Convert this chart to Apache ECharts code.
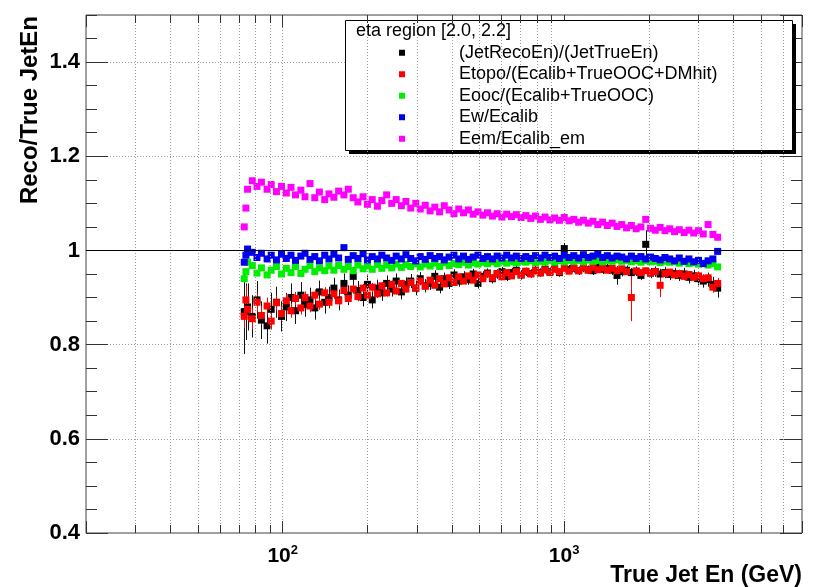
<!DOCTYPE html>
<html><head><meta charset="utf-8">
<script src="https://cdn.jsdelivr.net/npm/echarts@6/dist/echarts.min.js"></script>
<style>html,body{margin:0;padding:0;background:#fff}#c{width:818px;height:587px}</style>
</head><body><div id="c"></div>
<script>
// ---- data ----
const energies = [
  73,74,75,78,81,84,88,91,95,99,
  103,107,111,116,120,125,130,135,141,146,
  152,158,165,171,178,185,193,200,208,217,
  225,234,244,253,264,274,285,297,308,321,
  334,347,361,375,390,406,422,439,457,475,
  494,514,534,556,578,601,625,650,676,703,
  731,761,791,823,855,890,925,962,1001,1041,
  1082,1126,1171,1218,1266,1317,1370,1424,1481,1541,
  1602,1666,1733,1802,1874,1949,2027,2108,2193,2281,
  2372,2467,2565,2668,2775,2886,3001,3121,3246,3376,
  3511
];
const seriesNames = ['(JetRecoEn)/(JetTrueEn)','Etopo/(Ecalib+TrueOOC+DMhit)','Eooc/(Ecalib+TrueOOC)','Ew/Ecalib','Eem/Ecalib_em'];
const recoRatio = [
  0.87,0.87,0.88,0.86,0.895,0.852,0.84,0.875,0.89,0.86,
  0.88,0.9,0.872,0.905,0.885,0.895,0.878,0.912,0.89,0.9,
  0.92,0.895,0.93,0.905,0.945,0.915,0.9,0.928,0.895,0.92,
  0.91,0.93,0.918,0.935,0.912,0.928,0.935,0.92,0.94,0.925,
  0.93,0.945,0.922,0.94,0.93,0.948,0.935,0.944,0.938,0.95,
  0.93,0.945,0.952,0.94,0.95,0.955,0.945,0.953,0.958,0.948,
  0.955,0.951,0.958,0.953,0.96,0.955,0.962,0.953,1.004,0.96,
  0.962,0.957,0.963,0.959,0.957,0.964,0.96,0.962,0.958,0.947,
  0.955,0.958,0.953,0.956,0.947,1.013,0.952,0.955,0.95,0.953,
  0.949,0.951,0.947,0.95,0.943,0.946,0.94,0.935,0.938,0.928,
  0.92
];
const recoErr = [
  0.09,0.06,0.05,0.045,0.04,0.04,0.038,0.035,0.033,0.032,
  0.03,0.03,0.028,0.028,0.026,0.026,0.025,0.024,0.024,0.023,
  0.022,0.022,0.021,0.021,0.02,0.02,0.019,0.019,0.018,0.018,
  0.017,0.017,0.016,0.016,0.016,0.015,0.015,0.015,0.014,0.014,
  0.014,0.013,0.013,0.013,0.012,0.012,0.012,0.012,0.011,0.011,
  0.011,0.011,0.01,0.01,0.01,0.01,0.01,0.01,0.01,0.01,
  0.009,0.009,0.009,0.009,0.009,0.009,0.009,0.009,0.012,0.009,
  0.009,0.009,0.009,0.009,0.009,0.01,0.01,0.01,0.01,0.02,
  0.01,0.01,0.01,0.01,0.01,0.03,0.011,0.011,0.011,0.012,
  0.012,0.012,0.012,0.013,0.013,0.013,0.014,0.014,0.015,0.016,
  0.02
];
const topoRatio = [
  0.86,0.895,0.875,0.855,0.89,0.862,0.882,0.85,0.889,0.866,
  0.893,0.872,0.898,0.878,0.9,0.882,0.905,0.886,0.91,0.89,
  0.908,0.893,0.915,0.898,0.918,0.902,0.92,0.905,0.922,0.908,
  0.925,0.91,0.928,0.914,0.93,0.918,0.932,0.92,0.935,0.924,
  0.937,0.926,0.94,0.929,0.942,0.932,0.944,0.935,0.946,0.937,
  0.948,0.94,0.95,0.942,0.951,0.944,0.953,0.946,0.955,0.948,
  0.956,0.95,0.958,0.952,0.959,0.953,0.96,0.955,0.962,0.956,
  0.963,0.957,0.964,0.958,0.964,0.959,0.963,0.958,0.962,0.957,
  0.961,0.955,0.9,0.956,0.953,0.957,0.952,0.955,0.926,0.951,
  0.954,0.948,0.951,0.945,0.949,0.943,0.946,0.94,0.942,0.922,
  0.93
];
const topoErr = [
  0.025,0.03,0.025,0.022,0.02,0.02,0.018,0.018,0.016,0.016,
  0.015,0.015,0.014,0.014,0.013,0.013,0.012,0.012,0.012,0.011,
  0.011,0.011,0.01,0.01,0.01,0.01,0.009,0.009,0.009,0.009,
  0.008,0.008,0.008,0.008,0.007,0.007,0.007,0.007,0.007,0.007,
  0.006,0.006,0.006,0.006,0.006,0.006,0.006,0.006,0.006,0.006,
  0.006,0.006,0.006,0.005,0.005,0.005,0.005,0.005,0.005,0.005,
  0.005,0.005,0.005,0.005,0.005,0.005,0.005,0.005,0.005,0.005,
  0.005,0.005,0.005,0.005,0.005,0.005,0.005,0.005,0.005,0.005,
  0.005,0.005,0.05,0.005,0.005,0.006,0.006,0.006,0.025,0.006,
  0.006,0.006,0.007,0.007,0.007,0.008,0.008,0.009,0.009,0.012,
  0.012
];
const oocRatio = [
  0.94,0.955,0.975,0.968,0.952,0.963,0.948,0.958,0.966,0.95,
  0.962,0.953,0.966,0.951,0.96,0.968,0.955,0.963,0.957,0.967,
  0.958,0.968,0.96,0.966,0.957,0.969,0.961,0.967,0.96,0.97,
  0.962,0.969,0.963,0.971,0.964,0.97,0.966,0.972,0.965,0.971,
  0.967,0.973,0.966,0.974,0.968,0.972,0.97,0.975,0.969,0.974,
  0.971,0.975,0.972,0.976,0.972,0.977,0.973,0.976,0.974,0.977,
  0.975,0.978,0.974,0.977,0.975,0.979,0.975,0.978,0.976,0.979,
  0.977,0.979,0.976,0.98,0.977,0.979,0.976,0.979,0.977,0.98,
  0.977,0.979,0.976,0.978,0.975,0.978,0.976,0.977,0.974,0.977,
  0.975,0.976,0.973,0.976,0.972,0.974,0.971,0.973,0.969,0.972,
  0.965
];
const ewRatio = [
  0.975,0.99,1.003,0.996,0.985,0.994,0.982,0.99,0.98,0.992,
  0.983,0.99,0.979,0.988,0.994,0.981,0.987,0.978,0.99,0.982,
  0.992,0.984,1.006,0.981,0.989,0.983,0.993,0.98,0.987,0.982,
  0.99,0.984,0.979,0.988,0.982,0.991,0.983,0.978,0.987,0.981,
  0.989,0.983,0.987,0.98,0.986,0.99,0.982,0.988,0.981,0.986,
  0.99,0.983,0.987,0.982,0.988,0.984,0.99,0.984,0.988,0.983,
  0.987,0.983,0.989,0.984,0.99,0.985,0.988,0.983,0.99,0.985,
  0.989,0.984,0.991,0.985,0.988,0.992,0.985,0.989,0.984,0.988,
  0.986,0.982,0.988,0.983,0.987,0.982,0.986,0.983,0.98,0.985,
  0.982,0.978,0.984,0.977,0.982,0.976,0.979,0.972,0.978,0.982,
  0.998
];
const emRatio = [
  1.05,1.09,1.13,1.148,1.136,1.145,1.13,1.14,1.125,1.136,
  1.122,1.134,1.118,1.128,1.114,1.142,1.112,1.124,1.108,1.12,
  1.113,1.126,1.118,1.13,1.112,1.103,1.114,1.098,1.108,1.094,
  1.106,1.118,1.1,1.108,1.095,1.104,1.09,1.1,1.088,1.096,
  1.084,1.092,1.082,1.095,1.086,1.078,1.088,1.08,1.086,1.077,
  1.082,1.075,1.08,1.073,1.078,1.071,1.077,1.072,1.076,1.07,
  1.074,1.068,1.073,1.066,1.071,1.065,1.069,1.064,1.07,1.063,
  1.066,1.06,1.064,1.058,1.062,1.055,1.06,1.053,1.058,1.051,
  1.055,1.048,1.053,1.046,1.05,1.066,1.047,1.043,1.049,1.042,
  1.046,1.04,1.044,1.038,1.043,1.037,1.042,1.035,1.055,1.034,
  1.028
];
const yTickLabels = ['0.4','0.6','0.8','1','1.2','1.4'];
const xMinorTicks = [30,40,50,60,70,80,90,200,300,400,500,600,700,800,900,2000,3000,4000,5000,6000];
const legendTitle = 'eta region [2.0, 2.2]';
const yTitle = 'Reco/True JetEn';
const xTitle = 'True Jet En (GeV)';

// ---- chart ----
const FONT = 'Liberation Sans';
const colors = ['#000000','#ff0000','#00ee00','#0000ee','#ff00ff'];
const X_MIN = 20, X_MAX = 7000, Y_MIN = 0.4, Y_MAX = 1.5;
const chart = echarts.init(document.getElementById('c'), null, {renderer:'canvas'});

const pts = arr => energies.map((x, i) => [x, arr[i]]);
const errPts = (arr, e) => energies.map((x, i) => [x, arr[i] - e[i], arr[i] + e[i]]);
function errBar(color) {
  return function (params, api) {
    const x = api.value(0);
    const a = api.coord([x, api.value(1)]);
    const b = api.coord([x, api.value(2)]);
    const px = Math.round(a[0]) + 0.5;
    return {type: 'line', shape: {x1: px, y1: a[1], x2: px, y2: b[1]},
      style: {stroke: color, lineWidth: 1}};
  };
}
function scatter(name, arr, color) {
  return {name, type: 'scatter', data: pts(arr), symbol: 'rect', symbolSize: 7,
    itemStyle: {color, opacity: 1}, xAxisIndex: 0, yAxisIndex: 0, z: 3, silent: true};
}
function errSeries(arr, e, color) {
  return {type: 'custom', data: errPts(arr, e), renderItem: errBar(color),
    encode: {x: 0, y: [1, 2]}, xAxisIndex: 0, yAxisIndex: 0, z: 3, silent: true};
}
const minorLen = 8 / 471;    // minor x tick length in y units
const gridLineStyle = {color: '#999', type: [1, 2], width: 1};

const yLabelFmt = v => {
  const s = String(+v.toFixed(2));
  return yTickLabels.indexOf(s) >= 0 ? s : '';
};
const xLabelFmt = v => {
  const e = Math.log10(v), r = Math.round(e);
  if (Math.abs(e - r) > 1e-6) return '';
  return '{b|10}{s|' + r + '}';
};
const tickLine = {color: '#333', width: 1};
function yAx(pos, interval, len, labels, split) {
  return {type: 'value', position: pos, min: Y_MIN, max: Y_MAX, interval,
    axisLine: {show: false}, axisTick: {show: true, inside: true, length: len, lineStyle: tickLine},
    axisLabel: labels ? {show: true, margin: 6, formatter: yLabelFmt, fontFamily: FONT,
      fontSize: 22, fontWeight: 'bold', color: '#000', showMaxLabel: false} : {show: false},
    splitLine: split ? {show: true, lineStyle: gridLineStyle} : {show: false}};
}

const option = {
  animation: false,
  backgroundColor: '#fff',
  grid: {left: 86, right: 16, top: 15, bottom: 54, show: true, borderColor: '#444', borderWidth: 1,
    backgroundColor: 'transparent', containLabel: false},
  xAxis: [
    {type: 'log', logBase: 10, min: X_MIN, max: X_MAX, position: 'bottom',
      axisLine: {show: false},
      axisTick: {show: true, inside: true, length: 12, lineStyle: tickLine},
      axisLabel: {show: true, margin: 11, formatter: xLabelFmt, color: '#000',
        rich: {b: {fontFamily: FONT, fontSize: 21, fontWeight: 'bold', color: '#000'},
               s: {fontFamily: FONT, fontSize: 13, fontWeight: 'bold', color: '#000', padding: [0, 0, 11, 0]}}},
      splitLine: {show: true, lineStyle: gridLineStyle}},
    {type: 'log', logBase: 10, min: X_MIN, max: X_MAX, position: 'top',
      axisLine: {show: false},
      axisTick: {show: true, inside: true, length: 12, lineStyle: tickLine},
      axisLabel: {show: false}, splitLine: {show: false}}
  ],
  yAxis: [
    yAx('left', 0.2, 22, true, true),
    yAx('left', 0.05, 11, false, false),
    yAx('right', 0.2, 22, false, false),
    yAx('right', 0.05, 11, false, false)
  ],
  legend: {data: seriesNames, orient: 'vertical', left: 399, top: 42, padding: 0, itemGap: 0,
    itemWidth: 6, itemHeight: 6, icon: 'rect', selectedMode: false, z: 6,
    textStyle: {fontFamily: FONT, fontSize: 18, color: '#000', lineHeight: 17.5, padding: [0, 0, 4, 49]}},
  graphic: [
    {type: 'rect', z: 5, shape: {x: 349, y: 24, width: 447, height: 130}, style: {fill: '#000'}, silent: true},
    {type: 'rect', z: 5, shape: {x: 345.5, y: 20.5, width: 447, height: 130},
      style: {fill: '#fff', stroke: '#000', lineWidth: 1}, silent: true},
    {type: 'text', z: 6, x: 356, y: 31, silent: true,
      style: {text: legendTitle, fontFamily: FONT, fontSize: 18, fill: '#000', verticalAlign: 'middle', align: 'left'}},
    {type: 'text', z: 6, x: 42, y: 16, rotation: Math.PI / 2, silent: true,
      style: {text: yTitle, fontFamily: FONT, fontSize: 24, fontWeight: 'bold', fill: '#000', align: 'right', verticalAlign: 'bottom'}},
    {type: 'text', z: 6, x: 802, y: 587, silent: true,
      style: {text: xTitle, fontFamily: FONT, fontSize: 23, fontWeight: 'bold', fill: '#000', align: 'right', verticalAlign: 'bottom'}}
  ],
  series: [
    // minor vertical grid lines and minor ticks (bottom and top)
    {type: 'line', data: [], xAxisIndex: 0, yAxisIndex: 0, z: 1, silent: true,
      markLine: {silent: true, symbol: 'none', animation: false, label: {show: false},
        emphasis: {disabled: true},
        lineStyle: gridLineStyle,
        data: xMinorTicks.map(v => ({xAxis: v}))}},
    {type: 'line', data: [], xAxisIndex: 0, yAxisIndex: 0, z: 2, silent: true,
      markLine: {silent: true, symbol: 'none', animation: false, label: {show: false},
        emphasis: {disabled: true},
        lineStyle: {color: '#333', type: 'solid', width: 1},
        data: xMinorTicks.map(v => [{coord: [v, Y_MIN]}, {coord: [v, Y_MIN + minorLen]}])
          .concat(xMinorTicks.map(v => [{coord: [v, Y_MAX]}, {coord: [v, Y_MAX - minorLen]}]))}},
    errSeries(recoRatio, recoErr, '#111'),
    scatter(seriesNames[0], recoRatio, colors[0]),
    errSeries(topoRatio, topoErr, '#ff0000'),
    scatter(seriesNames[1], topoRatio, colors[1]),
    scatter(seriesNames[2], oocRatio, colors[2]),
    scatter(seriesNames[3], ewRatio, colors[3]),
    scatter(seriesNames[4], emRatio, colors[4]),
    // reference line at 1
    {type: 'line', data: [], xAxisIndex: 0, yAxisIndex: 0, z: 4, silent: true,
      markLine: {silent: true, symbol: 'none', animation: false, label: {show: false},
        emphasis: {disabled: true},
        lineStyle: {color: '#000', type: 'solid', width: 1},
        data: [{yAxis: 1}]}}
  ]
};
chart.setOption(option);
</script></body></html>
